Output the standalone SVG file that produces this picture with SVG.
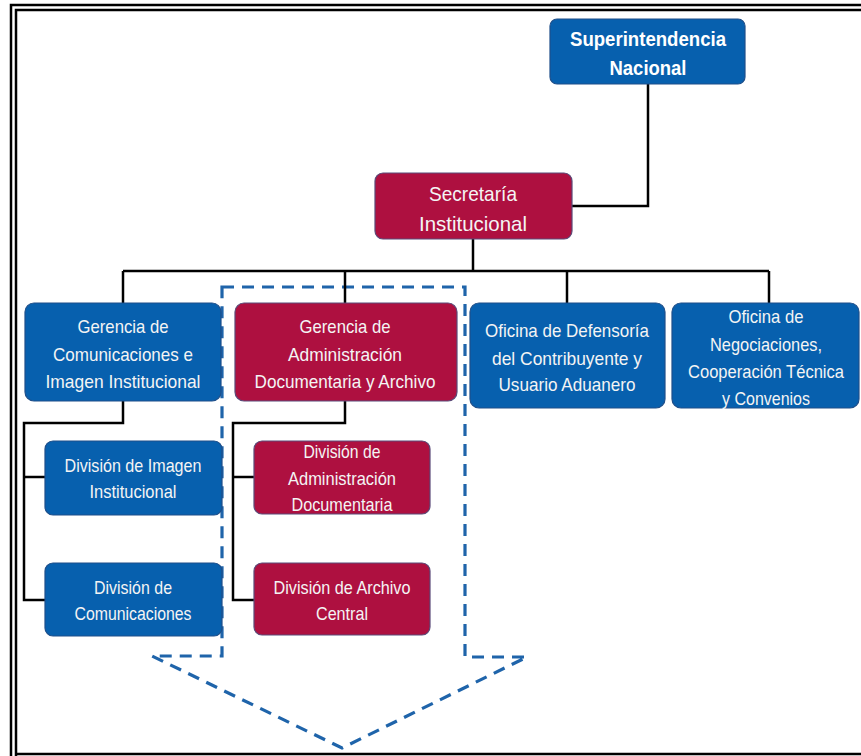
<svg xmlns="http://www.w3.org/2000/svg" width="861" height="756" viewBox="0 0 861 756">
<style>
.frame{fill:none;stroke:#000;stroke-width:2.5}
.blue{fill:#0760AE;stroke:#1F4F8A;stroke-width:1.2}
.red{fill:#AE1040;stroke:#5A4A78;stroke-width:1.2}
.t{font-family:"Liberation Sans",Arial,sans-serif;font-size:19px;fill:#F4F4F4;text-anchor:middle}
.tb{font-weight:bold;font-size:20px;fill:#fff}
.ln{fill:none;stroke:#000;stroke-width:2.5}
.dash{fill:none;stroke:#1F64AA;stroke-width:3.2;stroke-dasharray:12 8}
</style>
<rect x="0" y="0" width="861" height="756" fill="#fff"/>
<g id="frame">
<path class="frame" d="M11 756 V5 H861"/>
<path class="frame" d="M16 756 V10 H861"/>
<path class="frame" d="M16 754 H861"/>
</g>
<g id="highlight">
<path class="dash" d="M222 287 H465 V657 H527 L342 748 L152 656 H222 Z"/>
</g>
<g id="connectors">
<path class="ln" d="M648 84 V206 H572"/>
<path class="ln" d="M473 239 V271"/>
<path class="ln" d="M123 271 H769"/>
<path class="ln" d="M123 271 V303"/>
<path class="ln" d="M345 271 V303"/>
<path class="ln" d="M567 271 V303"/>
<path class="ln" d="M769 271 V303"/>
<path class="ln" d="M123 401 V423 H24 V600 H45"/>
<path class="ln" d="M24 477 H45"/>
<path class="ln" d="M345 401 V423 H233 V600 H254"/>
<path class="ln" d="M233 477 H254"/>
</g>
<g id="n-superintendencia">
<rect class="blue" x="550" y="19" width="195" height="65" rx="7"/>
<text class="t tb" x="648" y="46" textLength="156" lengthAdjust="spacingAndGlyphs">Superintendencia</text>
<text class="t tb" x="648" y="75" textLength="77" lengthAdjust="spacingAndGlyphs">Nacional</text>
</g>
<g id="n-secretaria">
<rect class="red" x="375" y="173" width="197" height="66" rx="8"/>
<text class="t" x="473" y="201" style="font-size:21px" textLength="88" lengthAdjust="spacingAndGlyphs">Secretaría</text>
<text class="t" x="473" y="231" style="font-size:21px" textLength="108" lengthAdjust="spacingAndGlyphs">Institucional</text>
</g>
<g id="n-gerencia-com">
<rect class="blue" x="25" y="303" width="196" height="98" rx="9"/>
<text class="t" x="123" y="333" textLength="91" lengthAdjust="spacingAndGlyphs">Gerencia de</text>
<text class="t" x="123" y="361" textLength="140" lengthAdjust="spacingAndGlyphs">Comunicaciones e</text>
<text class="t" x="123" y="388" textLength="155" lengthAdjust="spacingAndGlyphs">Imagen Institucional</text>
</g>
<g id="n-gerencia-adm">
<rect class="red" x="235" y="303" width="222" height="98" rx="9"/>
<text class="t" x="345" y="333" textLength="91" lengthAdjust="spacingAndGlyphs">Gerencia de</text>
<text class="t" x="345" y="361" textLength="114" lengthAdjust="spacingAndGlyphs">Administración</text>
<text class="t" x="345" y="388" textLength="181" lengthAdjust="spacingAndGlyphs">Documentaria y Archivo</text>
</g>
<g id="n-oficina-defensoria">
<rect class="blue" x="470" y="303" width="195" height="105" rx="9"/>
<text class="t" x="567" y="337" textLength="164" lengthAdjust="spacingAndGlyphs">Oficina de Defensoría</text>
<text class="t" x="567" y="365" textLength="150" lengthAdjust="spacingAndGlyphs">del Contribuyente y</text>
<text class="t" x="567" y="391" textLength="137" lengthAdjust="spacingAndGlyphs">Usuario Aduanero</text>
</g>
<g id="n-oficina-negociaciones">
<rect class="blue" x="672" y="303" width="187" height="105" rx="9"/>
<text class="t" x="766" y="323" textLength="75" lengthAdjust="spacingAndGlyphs">Oficina de</text>
<text class="t" x="766" y="351" textLength="112" lengthAdjust="spacingAndGlyphs">Negociaciones,</text>
<text class="t" x="766" y="378" style="font-size:18px" textLength="156" lengthAdjust="spacingAndGlyphs">Cooperación Técnica</text>
<text class="t" x="766" y="405" textLength="88" lengthAdjust="spacingAndGlyphs">y Convenios</text>
</g>
<g id="n-div-imagen">
<rect class="blue" x="45" y="441" width="177" height="74" rx="8"/>
<text class="t" x="133" y="472" textLength="137" lengthAdjust="spacingAndGlyphs">División de Imagen</text>
<text class="t" x="133" y="498" textLength="87" lengthAdjust="spacingAndGlyphs">Institucional</text>
</g>
<g id="n-div-comunicaciones">
<rect class="blue" x="45" y="563" width="177" height="73" rx="8"/>
<text class="t" x="133" y="594" textLength="78" lengthAdjust="spacingAndGlyphs">División de</text>
<text class="t" x="133" y="620" textLength="117" lengthAdjust="spacingAndGlyphs">Comunicaciones</text>
</g>
<g id="n-div-admin-doc">
<rect class="red" x="254" y="441" width="176" height="73" rx="8"/>
<text class="t" x="342" y="458" textLength="77" lengthAdjust="spacingAndGlyphs">División de</text>
<text class="t" x="342" y="485" textLength="108" lengthAdjust="spacingAndGlyphs">Administración</text>
<text class="t" x="342" y="511" textLength="101" lengthAdjust="spacingAndGlyphs">Documentaria</text>
</g>
<g id="n-div-archivo">
<rect class="red" x="254" y="563" width="176" height="72" rx="8"/>
<text class="t" x="342" y="594" textLength="137" lengthAdjust="spacingAndGlyphs">División de Archivo</text>
<text class="t" x="342" y="620" textLength="52" lengthAdjust="spacingAndGlyphs">Central</text>
</g>
</svg>
